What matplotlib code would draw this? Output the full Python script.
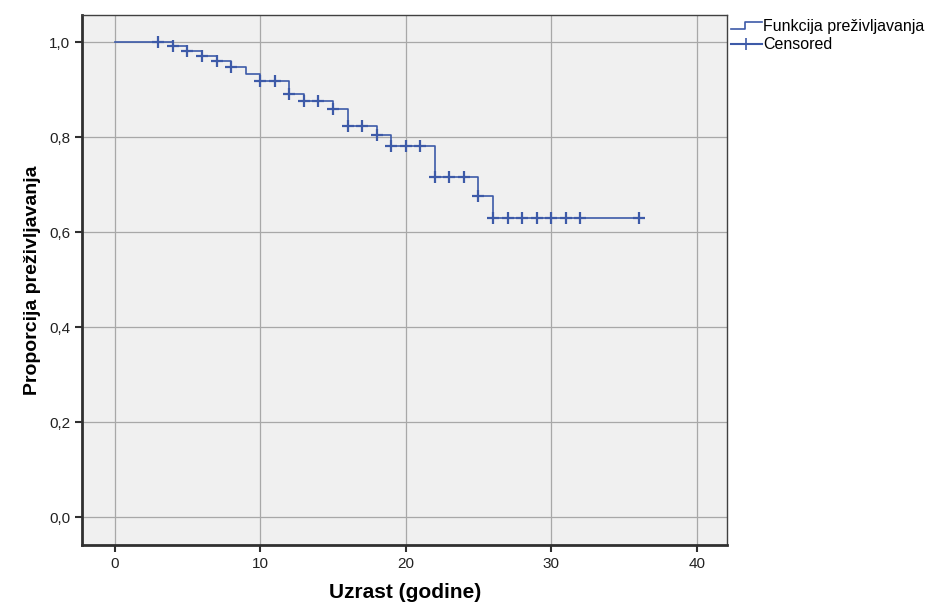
import matplotlib
matplotlib.use("Agg")
import matplotlib.pyplot as plt
from matplotlib.lines import Line2D
from matplotlib.legend_handler import HandlerBase
from matplotlib.ticker import FuncFormatter

# Kaplan-Meier steps (time, survival after the event)
event_t = [0, 4, 5, 6, 7, 8, 9, 10, 12, 13, 15, 16, 18, 19, 22, 25, 26]
surv = [1.0, 0.991, 0.981, 0.971, 0.961, 0.948, 0.934, 0.918, 0.891, 0.876,
        0.859, 0.824, 0.804, 0.781, 0.716, 0.677, 0.630]
censor_t = [3, 4, 5, 6, 7, 8, 10, 11, 12, 13, 14, 15, 16, 17, 18, 19, 20, 21,
            22, 23, 24, 25, 26, 27, 28, 29, 30, 31, 32, 36]
x_ticks = [0, 10, 20, 30, 40]
y_ticks = [0.0, 0.2, 0.4, 0.6, 0.8, 1.0]

COLOR = "#3d5aa8"


def surv_at(t):
    s = 1.0
    for et, sv in zip(event_t, surv):
        if et <= t:
            s = sv
    return s


class StepHandler(HandlerBase):
    def create_artists(self, legend, orig, xd, yd, w, h, fontsize, trans):
        xs = [xd, xd + w * 0.45, xd + w * 0.45, xd + w]
        ys = [yd + h * 0.2, yd + h * 0.2, yd + h * 0.8, yd + h * 0.8]
        ln = Line2D(xs, ys, color=COLOR, lw=1.2, transform=trans)
        return [ln]


plt.rcParams["font.family"] = ["Liberation Sans", "DejaVu Sans"]

fig = plt.figure(figsize=(9.41, 6.04), dpi=100)
ax = fig.add_axes([0.087, 0.098, 0.686, 0.877])
ax.set_facecolor("#f0f0f0")

# step curve, extended to last censored time
xs = event_t + [censor_t[-1]]
ys = surv + [surv[-1]]
ax.step(xs, ys, where="post", color=COLOR, lw=1.2, zorder=3)

cy = [surv_at(t) for t in censor_t]
ax.plot(censor_t, cy, linestyle="none", marker="+", markersize=9,
        markeredgewidth=1.6, color=COLOR, zorder=4)

ax.set_xlim(-2.25, 42.1)
ax.set_ylim(-0.058, 1.057)
ax.set_xticks(x_ticks)
ax.set_yticks(y_ticks)
ax.yaxis.set_major_formatter(FuncFormatter(lambda v, p: f"{v:.1f}".replace(".", ",")))
ax.grid(True, color="#a8a8a8", lw=0.9)
ax.set_axisbelow(True)

for side in ["left", "bottom"]:
    ax.spines[side].set_linewidth(2)
    ax.spines[side].set_color("#303030")
for side in ["top", "right"]:
    ax.spines[side].set_linewidth(1)
    ax.spines[side].set_color("#404040")

ax.tick_params(direction="out", length=5, width=1.5, color="#303030",
               labelsize=11, labelcolor="#222222")

ax.set_xlabel("Uzrast (godine)", fontsize=15, fontweight="bold", labelpad=9)
ax.set_ylabel("Proporcija preživljavanja", fontsize=14, fontweight="bold", labelpad=6)

h1 = Line2D([], [], color=COLOR)
h2 = Line2D([], [], color=COLOR, marker="+", markersize=9, markeredgewidth=1.2)
fig.legend([h1, h2], ["Funkcija preživljavanja", "Censored"],
           handler_map={h1: StepHandler()},
           loc="upper left", bbox_to_anchor=(0.772, 0.976), frameon=False,
           fontsize=11.5, handlelength=1.9, handletextpad=0.1,
           labelspacing=0.2, borderpad=0.2, borderaxespad=0.1)

fig.savefig("out.png", dpi=100)
